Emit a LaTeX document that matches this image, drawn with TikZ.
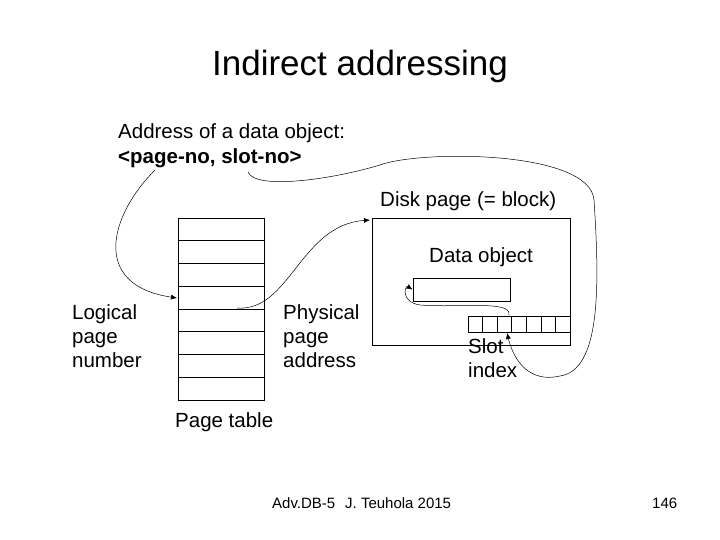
\documentclass[tikz,border=0pt]{standalone}
\usepackage{fontspec}
\setmainfont{Liberation Sans}
\usetikzlibrary{arrows.meta}
\begin{document}
\begin{tikzpicture}[x=1pt,y=-1pt,
  txt/.style={font=\fontsize{20.5}{24}\selectfont,inner sep=0,anchor=west},
  foot/.style={font=\fontsize{15}{17}\selectfont,inner sep=0},
  box/.style={draw,line width=0.7pt},
  arr/.style={line width=0.5pt,-{Latex[length=6pt,width=5pt]}}]
\useasboundingbox (0,0) rectangle (720,540);
\node[font=\fontsize{35}{38}\selectfont,inner sep=0] (title) at (360,66) {Indirect addressing};
\node[txt] (addr) at (118,133) {Address of a data object:};
\node[txt,font=\fontsize{20.5}{24}\selectfont\bfseries] (pn) at (118,158) {<page-no, slot-no>};
\node[txt] (dp) at (380,201) {Disk page (= block)};
\node[txt] (dobj) at (429,257) {Data object};
\node[txt,align=left,anchor=north west] (lpn) at (72,304) {Logical\\page\\number};
\node[txt,align=left,anchor=north west] (ppa) at (283,304) {Physical\\page\\address};
\node[txt,align=left,anchor=north west] (si) at (468,338) {Slot\\index};
\node[txt] (pt) at (175,422) {Page table};
\node[foot,anchor=west] (f1) at (272,503) {Adv.DB-5};
\node[foot,anchor=west] (f2) at (345,503) {J. Teuhola 2015};
\node[foot,anchor=west] (f3) at (652,503) {146};
% page table
\foreach \i in {0,...,7}{
  \draw[box] (178,{218+\i*22.75}) rectangle (264,{218+(\i+1)*22.75});}
\coordinate (ptl) at (177,298);
\coordinate (ptm) at (237,308);
% disk page
\node[box,minimum width=198pt,minimum height=127pt,inner sep=0] (disk) at (471,281.5) {};
\node[box,minimum width=97pt,minimum height=23pt,inner sep=0] (obj) at (461.5,289.5) {};
\foreach \i in {0,...,6}{
  \draw[box] ({468+\i*14.57},316) rectangle ({468+(\i+1)*14.57},332);}
\coordinate (s1) at (509,315);
\coordinate (s2) at (507,333);
\coordinate (pnl) at (155,170);
\coordinate (pnr) at (248,172);
% arrows
\draw[arr] (pnl) .. controls (110,215) and (90,285) .. (ptl);
\draw[arr] (ptm) .. controls (290,312) and (300,225) .. (370,220);
\draw[arr] (pnr) .. controls (255,190) and (330,180) .. (380,165)
  .. controls (420,150) and (590,150) .. (594,200)
  .. controls (600,290) and (600,370) .. (560,376)
  .. controls (520,385) and (510,345) .. (s2);
\draw[arr] (s1) .. controls (512,300) and (460,308) .. (420,305)
  .. controls (400,302) and (405,285) .. (obj.west);
\end{tikzpicture}
\end{document}
